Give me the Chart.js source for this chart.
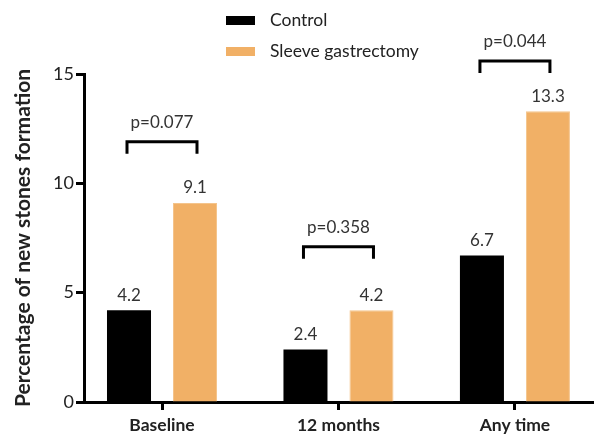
<!DOCTYPE html>
<html>
<head>
<meta charset="utf-8">
<script src="https://cdn.jsdelivr.net/npm/chart.js@4"></script>
<style>
  html, body { margin: 0; padding: 0; background: #fff; }
  #wrap { width: 594px; height: 437px; position: relative; }
</style>
</head>
<body>
<div id="wrap"><canvas id="chart"></canvas></div>
<script>
const categories = ['Baseline', '12 months', 'Any time'];
const controlValues = [4.2, 2.4, 6.7];
const sleeveValues = [9.1, 4.2, 13.3];
const pLabels = ['p=0.077', 'p=0.358', 'p=0.044'];
const bracketLevels = [11.9, 7.1, 15.6];
const yTicks = [0, 5, 10, 15];

const FONT = 'Lato, "Open Sans", sans-serif';

function toPoints(values) {
  return values.map((v, i) => ({ x: i, y: v }));
}

// custom legend, value labels and p-value brackets
const annotate = {
  id: 'annotate',
  afterDatasetsDraw(chart) {
    const ctx = chart.ctx;
    const y = chart.scales.y;
    const m0 = chart.getDatasetMeta(0);
    const m1 = chart.getDatasetMeta(1);
    ctx.save();

    // value labels
    ctx.fillStyle = '#333';
    ctx.font = '17px ' + FONT;
    ctx.textAlign = 'center';
    ctx.textBaseline = 'middle';
    chart.data.datasets.forEach((ds, d) => {
      chart.getDatasetMeta(d).data.forEach((bar, i) => {
        ctx.fillText(ds.data[i].y.toFixed(1), bar.x, bar.y - 15);
      });
    });

    // brackets
    ctx.strokeStyle = '#000';
    ctx.lineWidth = 3;
    ctx.lineJoin = 'miter';
    categories.forEach((c, i) => {
      const x1 = m0.data[i].x - 2;
      const x2 = m1.data[i].x + 2;
      const top = y.getPixelForValue(bracketLevels[i]);
      ctx.beginPath();
      ctx.moveTo(x1, top + 12);
      ctx.lineTo(x1, top);
      ctx.lineTo(x2, top);
      ctx.lineTo(x2, top + 12);
      ctx.stroke();
      ctx.fillText(pLabels[i], (x1 + x2) / 2, top - 19);
    });

    // legend
    ctx.textAlign = 'left';
    ctx.font = '17.5px ' + FONT;
    chart.data.datasets.forEach((ds, d) => {
      const ly = 20 + d * 31;
      ctx.fillStyle = ds.backgroundColor;
      ctx.fillRect(226, ly - 4, 29, 9);
      ctx.fillStyle = '#222';
      ctx.fillText(ds.label, 270, ly);
    });
    ctx.restore();
  }
};

new Chart(document.getElementById('chart'), {
  type: 'bar',
  data: {
    datasets: [
      {
        label: 'Control',
        data: toPoints(controlValues),
        backgroundColor: '#000000',
        categoryPercentage: 0.748,
        barPercentage: 0.667
      },
      {
        label: 'Sleeve gastrectomy',
        data: toPoints(sleeveValues),
        backgroundColor: '#F1B066',
        borderColor: '#F4C48C',
        borderWidth: 1,
        categoryPercentage: 0.748,
        barPercentage: 0.667
      }
    ]
  },
  plugins: [annotate],
  options: {
    responsive: true,
    maintainAspectRatio: false,
    animation: false,
    layout: { padding: { top: 74, right: 0, left: 0, bottom: 0 } },
    plugins: {
      legend: { display: false },
      tooltip: { enabled: false }
    },
    scales: {
      x: {
        type: 'linear',
        offset: false,
        min: -0.442,
        max: 2.448,
        afterBuildTicks: (s) => { s.ticks = categories.map((c, i) => ({ value: i })); },
        afterFit: (s) => { s.height = 35; },
        border: { display: true, color: '#000', width: 3 },
        grid: { offset: false, drawOnChartArea: false, drawTicks: true, tickLength: 8, tickWidth: 3, tickColor: '#000' },
        ticks: {
          autoSkip: false,
          maxRotation: 0,
          padding: 5,
          color: '#222',
          font: { family: FONT, size: 17.5, weight: 'bold' },
          callback: (v) => categories[v]
        }
      },
      y: {
        min: 0,
        max: 15,
        afterBuildTicks: (s) => { s.ticks = yTicks.map(v => ({ value: v })); },
        afterFit: (s) => { s.width = 84; },
        border: { display: true, color: '#000', width: 3 },
        grid: { drawOnChartArea: false, drawTicks: true, tickLength: 8, tickWidth: 3, tickColor: '#000' },
        ticks: {
          padding: 2,
          color: '#222',
          font: { family: FONT, size: 18 }
        },
        title: {
          display: true,
          text: 'Percentage of new stones formation',
          color: '#222',
          padding: { top: 11, bottom: 0 },
          font: { family: FONT, size: 21, weight: 'bold' }
        }
      }
    }
  }
});
</script>
</body>
</html>
